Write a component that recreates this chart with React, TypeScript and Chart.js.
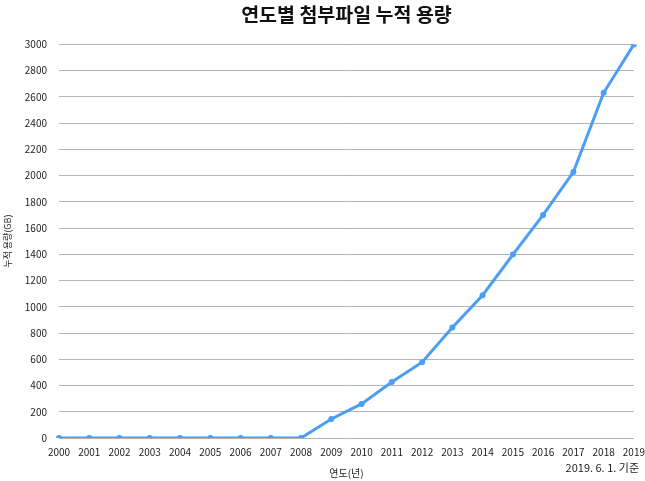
import { useEffect, useRef } from "react";
import Chart from "chart.js/auto";

const YEARS = ["2000","2001","2002","2003","2004","2005","2006","2007","2008","2009","2010","2011","2012","2013","2014","2015","2016","2017","2018","2019"];
const CAPACITY_GB = [0, 0, 0, 0, 0, 0, 0, 0, 0, 145, 260, 426, 578, 842, 1088, 1398, 1700, 2027, 2631, 3000];

const FONT = "'Noto Sans CJK KR', 'Noto Sans', sans-serif";
const LINE_COLOR = "#4a9ff5";

// footnote at bottom right
const footnote = {
  id: "footnote",
  afterDraw(chart: Chart) {
    const { ctx, width, height } = chart;
    ctx.save();
    ctx.font = `11px ${FONT}`;
    ctx.fillStyle = "#222";
    ctx.textAlign = "right";
    ctx.textBaseline = "middle";
    ctx.fillText("2019. 6. 1. 기준", width - 6, height - 13);
    ctx.restore();
  },
};

export default function App() {
  const canvasRef = useRef<HTMLCanvasElement>(null);
  const chartRef = useRef<Chart | null>(null);

  useEffect(() => {
    if (!canvasRef.current) return;
    if (chartRef.current) chartRef.current.destroy();

    chartRef.current = new Chart(canvasRef.current, {
      type: "line",
      data: {
        labels: YEARS,
        datasets: [{
          data: CAPACITY_GB,
          borderColor: LINE_COLOR,
          backgroundColor: LINE_COLOR,
          borderWidth: 3,
          pointRadius: 3,
          pointBorderWidth: 0,
          tension: 0,
        }],
      },
      options: {
        animation: false,
        responsive: true,
        maintainAspectRatio: false,
        layout: { padding: { left: 2, right: 1, top: 0, bottom: 2 } },
        plugins: {
          legend: { display: false },
          tooltip: { enabled: false },
          title: {
            display: true,
            fullSize: false,
            text: "연도별 첨부파일 누적 용량",
            color: "#111",
            font: { family: FONT, size: 19.5, weight: "bold" },
            padding: { top: 3, bottom: 18 },
          },
        },
        scales: {
          x: {
            offset: false,
            grid: { display: false },
            border: { display: false },
            ticks: { color: "#222", font: { family: FONT, size: 10 }, padding: 0, maxRotation: 0, autoSkip: false },
            title: { display: true, text: "연도(년)", color: "#222", font: { family: FONT, size: 10 }, padding: { top: 9, bottom: 0 } },
          },
          y: {
            min: 0,
            max: 3000,
            ticks: { stepSize: 200, color: "#222", font: { family: FONT, size: 10 }, padding: 12, callback: v => String(v) },
            grid: { color: "#b4b4b4", drawTicks: false },
            border: { display: false },
            title: { display: true, text: "누적 용량(GB)", color: "#222", font: { family: FONT, size: 9 }, padding: 0 },
          },
        },
      },
      plugins: [footnote],
    });

    return () => { chartRef.current?.destroy(); };
  }, []);

  return (
    <div style={{ position: "fixed", left: 0, top: 0, width: 645, height: 481, background: "#fff" }}>
      <canvas ref={canvasRef} />
    </div>
  );
}
